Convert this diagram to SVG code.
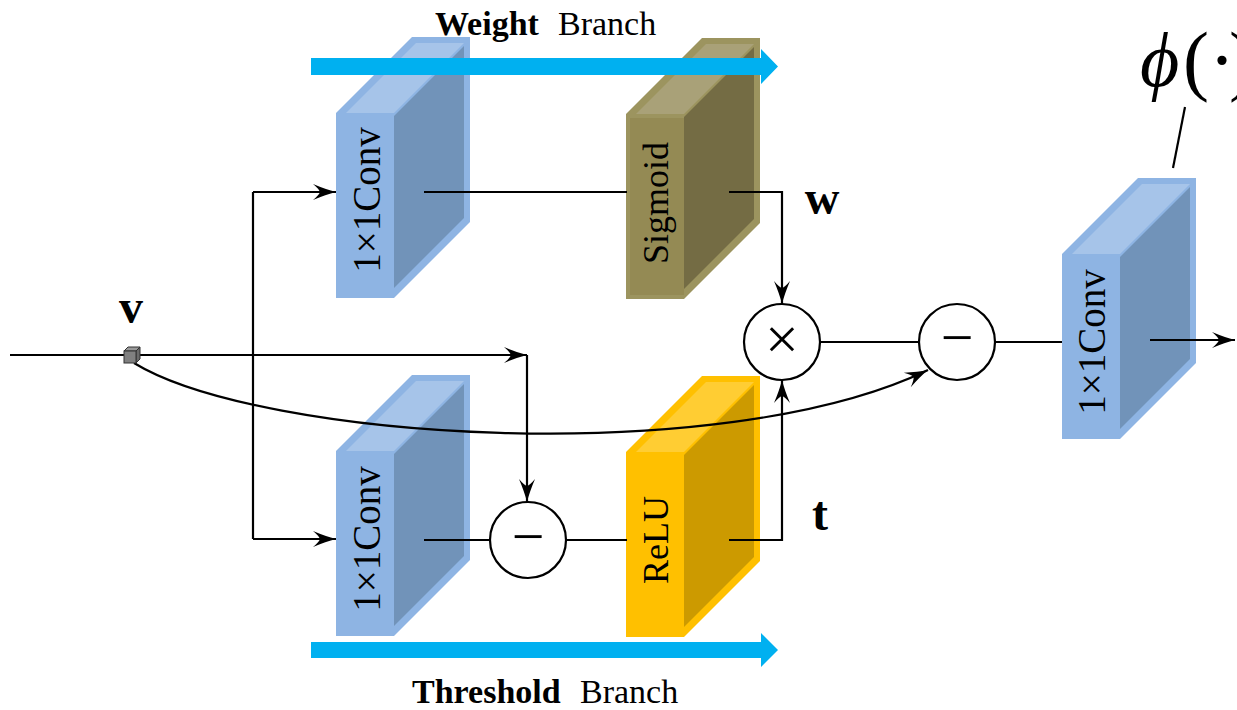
<svg xmlns="http://www.w3.org/2000/svg" width="1237" height="710" viewBox="0 0 1237 710">
<defs>
<style>
.ln{fill:none;stroke:#000;stroke-width:2.2}
.ar{marker-end:url(#ah)}
.cir{fill:#fff;stroke:#000;stroke-width:2.2}
.lbl{font-family:"Liberation Serif","DejaVu Serif",serif;font-size:36px;fill:#000}
.cv{font-size:39px}
.ttl{font-family:"Liberation Serif","DejaVu Serif",serif;font-size:34px;fill:#000}
.var{font-family:"Liberation Serif","DejaVu Serif",serif;font-size:48px;font-weight:bold;fill:#000}
.op{font-family:"Liberation Serif","DejaVu Serif",serif;fill:#000}
.blue .o{fill:#8EB4E3}.blue .t{fill:#A6C4E9}.blue .s{fill:#7193B9}
.olive .o{fill:#9C945F}.olive .t{fill:#A9A178}.olive .s{fill:#746C44}
.gold .o{fill:#FFC000}.gold .t{fill:#FFCD33}.gold .s{fill:#CC9A00}
.band{fill:#00B0F0}
</style>
<marker id="ah" viewBox="-26 -10 28 20" markerWidth="28" markerHeight="20" refX="0" refY="0" orient="auto" markerUnits="userSpaceOnUse">
<path d="M0,0 Q-10,-2.5 -23,-8 Q-17,-3 -16,0 Q-17,3 -23,8 Q-10,2.5 0,0 Z" fill="#000"/>
</marker>
</defs>
<rect width="1237" height="710" fill="#fff"/>

<g id="conv1" class="blue" transform="translate(336,113)">
<polygon class="o" points="0,0 76,-76 134,-76 134,109 58,185 0,185"/>
<polygon class="t" points="10,0 80,-70 128,-70 58,0"/>
<polygon class="s" points="58,3 128,-67 128,105 58,175"/>
<text class="lbl cv" text-anchor="middle" transform="translate(44,87) rotate(-90)">1×1Conv</text>
</g>
<g id="sigmoid" class="olive" transform="translate(626,114)">
<polygon class="o" points="0,0 76,-76 134,-76 134,109 58,185 0,185"/>
<polygon points="4,4 58,4 58,181 4,181" fill="#948A54"/>
<polygon class="t" points="10,0 80,-70 128,-70 58,0"/>
<polygon class="s" points="58,3 128,-67 128,105 58,175"/>
<text class="lbl" text-anchor="middle" transform="translate(42,89) rotate(-90)">Sigmoid</text>
</g>
<g id="conv2" class="blue" transform="translate(336,451)">
<polygon class="o" points="0,0 76,-76 134,-76 134,109 58,185 0,185"/>
<polygon class="t" points="10,0 80,-70 128,-70 58,0"/>
<polygon class="s" points="58,3 128,-67 128,105 58,175"/>
<text class="lbl cv" text-anchor="middle" transform="translate(44,88) rotate(-90)">1×1Conv</text>
</g>
<g id="relu" class="gold" transform="translate(626,452)">
<polygon class="o" points="0,0 76,-76 134,-76 134,109 58,185 0,185"/>
<polygon class="t" points="10,0 80,-70 128,-70 58,0"/>
<polygon class="s" points="58,3 128,-67 128,105 58,175"/>
<text class="lbl" text-anchor="middle" transform="translate(42,88) rotate(-90)">ReLU</text>
</g>
<g id="conv3" class="blue" transform="translate(1062,254)">
<polygon class="o" points="0,0 76,-76 134,-76 134,109 58,185 0,185"/>
<polygon class="t" points="10,0 80,-70 128,-70 58,0"/>
<polygon class="s" points="58,3 128,-67 128,105 58,175"/>
<text class="lbl cv" text-anchor="middle" transform="translate(43,88) rotate(-90)">1×1Conv</text>
</g>

<g id="weight-branch">
<polygon class="band" points="311,58 761,58 761,49 778,66.5 761,84 761,75 311,75"/>
<text class="ttl" x="435" y="35"><tspan font-weight="bold">Weight</tspan><tspan x="558">Branch</tspan></text>
</g>
<g id="threshold-branch">
<polygon class="band" points="311,642 761,642 761,633 778,650 761,667 761,658 311,658"/>
<text class="ttl" x="412" y="703"><tspan font-weight="bold">Threshold</tspan><tspan x="580">Branch</tspan></text>
</g>

<g id="connectors">
<path class="ln ar" d="M10,355 H527"/>
<path class="ln ar" d="M527,355 V502"/>
<path class="ln" d="M253,192 V539"/>
<path class="ln ar" d="M253,192 H336"/>
<path class="ln ar" d="M253,539 H336"/>
<path class="ln" d="M424,192 H627"/>
<path class="ln ar" d="M729,192 H782 V304"/>
<path class="ln ar" d="M729,540 H782 V380"/>
<path class="ln" d="M424,540 H490"/>
<path class="ln" d="M566,540 H627"/>
<path class="ln" d="M820,342 H919"/>
<path class="ln" d="M995,342 H1062"/>
<path class="ln ar" d="M1150,340 H1235"/>
<path class="ln ar" d="M134,363 C260,440 720,470 928,370"/>
<path class="ln" d="M1185,107 L1173,168"/>
</g>

<g id="cube">
<polygon points="124,351 128,347 140,347 136,351" fill="#9a9a9a" stroke="#333" stroke-width="1"/>
<polygon points="136,351 140,347 140,359 136,363" fill="#6a6a6a" stroke="#333" stroke-width="1"/>
<rect x="124" y="351" width="12" height="12" fill="#808080" stroke="#333" stroke-width="1"/>
</g>

<g id="mul">
<circle class="cir" cx="782" cy="342" r="38"/>
<text class="op" x="782" y="359" font-size="60" text-anchor="middle">×</text>
</g>
<g id="sub1">
<circle class="cir" cx="957" cy="342" r="38"/>
<text class="op" x="957" y="357" font-size="58" text-anchor="middle">−</text>
</g>
<g id="sub2">
<circle class="cir" cx="528" cy="540" r="38"/>
<text class="op" x="528" y="556" font-size="58" text-anchor="middle">−</text>
</g>

<g id="labels">
<text class="var" x="131" y="323" text-anchor="middle">v</text>
<text class="var" x="822" y="214" text-anchor="middle">w</text>
<text class="var" x="820" y="530" text-anchor="middle">t</text>
<text class="op" x="1140" y="86" font-size="78"><tspan font-style="italic" font-size="76">ϕ</tspan><tspan x="1183">(</tspan><tspan x="1209">·</tspan><tspan x="1229">)</tspan></text>
</g>
</svg>
